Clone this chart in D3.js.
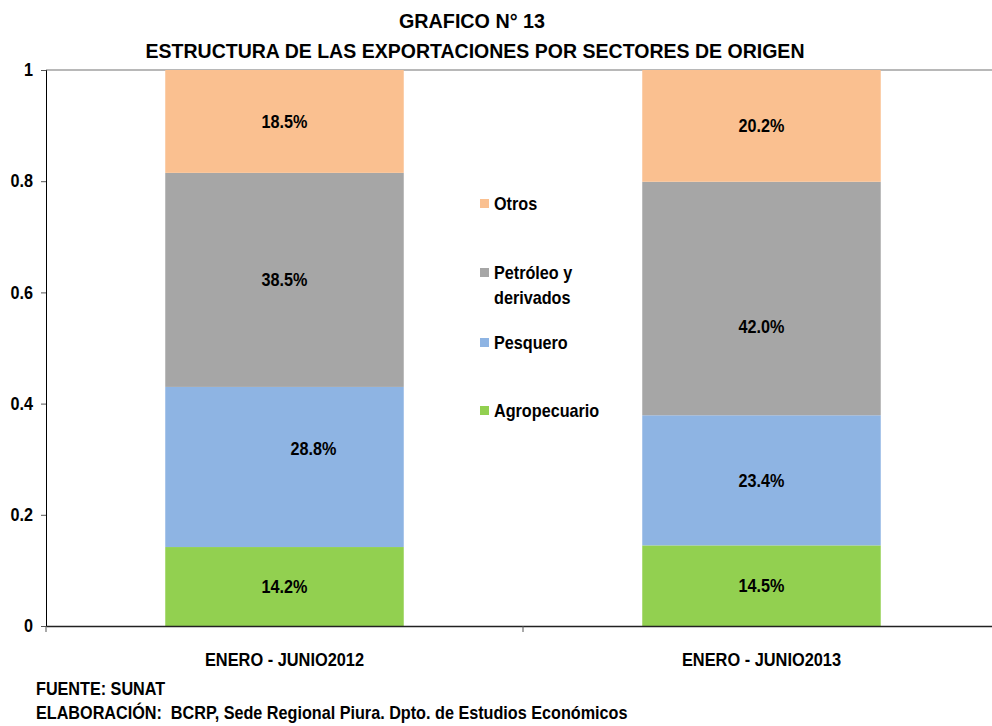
<!DOCTYPE html>
<html>
<head>
<meta charset="utf-8">
<script src="https://d3js.org/d3.v7.min.js"></script>
<style>
body { margin: 0; background: #fff; }
svg text { font-family: "Liberation Sans", Arial, sans-serif; font-weight: bold; fill: #000; }
</style>
</head>
<body>
<svg id="chart" width="992" height="726"></svg>
<script>
// data
var periods = ["ENERO - JUNIO2012", "ENERO - JUNIO2013"];
var sectors = ["Agropecuario", "Pesquero", "Petróleo y derivados", "Otros"];
var agropecuario = [14.2, 14.5];
var pesquero = [28.8, 23.4];
var petroleo = [38.5, 42.0];
var otros = [18.5, 20.2];
var yTicks = [0, 0.2, 0.4, 0.6, 0.8, 1];

var colors = ["#92D050", "#8EB4E3", "#A6A6A6", "#FAC090"];
// a couple of labels were moved by hand in the original
var labelNudge = { "1-0": [29, -18], "2-1": [0, 28] };

// the original uses a condensed bold face, so squeeze the text horizontally
function narrow(sel, k) {
  sel.each(function() {
    var t = d3.select(this), x = +t.attr("x") || 0;
    t.attr("transform", "translate(" + x + ",0) scale(" + k + ",1) translate(" + (-x) + ",0)");
  });
  return sel;
}

var svg = d3.select("#chart");
var margin = {left: 46, top: 70, right: -8, bottom: 100};
var W = 992 - margin.left - margin.right, H = 726 - margin.top - margin.bottom;

var rows = periods.map(function(p, i) {
  return {period: p, Agropecuario: agropecuario[i] / 100, Pesquero: pesquero[i] / 100,
          "Petróleo y derivados": petroleo[i] / 100, Otros: otros[i] / 100};
});
var series = d3.stack().keys(sectors)(rows);

var x = d3.scaleBand().domain(periods).range([0, W]).paddingInner(0.5).paddingOuter(0.25);
var y = d3.scaleLinear().domain([0, 1]).range([H, 0]).clamp(true);

var g = svg.append("g").attr("transform", "translate(" + margin.left + "," + margin.top + ")");

// title
narrow(svg.append("text").attr("x", 472).attr("y", 28).attr("text-anchor", "middle")
  .style("font-size", "21px").text("GRAFICO N° 13"), 0.94);
narrow(svg.append("text").attr("x", 475).attr("y", 58).attr("text-anchor", "middle")
  .style("font-size", "21px").text("ESTRUCTURA DE LAS EXPORTACIONES POR SECTORES DE ORIGEN"), 0.93);

// top gridline
g.append("line").attr("x1", 0).attr("x2", W).attr("y1", y(1)).attr("y2", y(1))
  .attr("stroke", "#A0A0A0").attr("stroke-width", 1.5);

// bars
g.selectAll("g.layer").data(series).enter().append("g").attr("class", "layer")
  .attr("fill", function(d, i) { return colors[i]; })
  .selectAll("rect").data(function(d) { return d; }).enter().append("rect")
  .attr("x", function(d) { return x(d.data.period); })
  .attr("width", x.bandwidth())
  .attr("y", function(d) { return y(d[1]); })
  .attr("height", function(d) { return y(d[0]) - y(d[1]); });

// data labels
series.forEach(function(s, si) {
  s.forEach(function(d, pi) {
    var n = labelNudge[si + "-" + pi] || [0, 0];
    narrow(g.append("text")
      .attr("x", x(d.data.period) + x.bandwidth() / 2 + n[0])
      .attr("y", (y(d[0]) + y(d[1])) / 2 + n[1])
      .attr("dy", "0.35em").attr("text-anchor", "middle")
      .style("font-size", "18px")
      .text(d3.format(".1f")((d[1] - d[0]) * 100) + "%"), 0.9);
  });
});

// y axis
var yAxis = g.append("g").call(d3.axisLeft(y).tickValues(yTicks).tickSize(5)
  .tickFormat(function(d) { return d === 0 || d === 1 ? d : d3.format(".1f")(d); }));
yAxis.select(".domain").attr("stroke", "#000");
yAxis.selectAll(".tick line").attr("stroke", "#555");
narrow(yAxis.selectAll(".tick text").attr("x", -13).style("font-size", "18px").style("font-family", null), 0.9);

// x axis
var xAxis = g.append("g").attr("transform", "translate(0," + H + ")")
  .call(d3.axisBottom(x).tickSize(0).tickSizeOuter(0));
xAxis.select(".domain").attr("stroke", "#222").attr("stroke-width", 1.5);
narrow(xAxis.selectAll(".tick text").attr("dy", 0).attr("y", 40).style("font-size", "18px").style("font-family", null), 0.91);
g.append("g").selectAll("line").data([0, 1, 2]).enter().append("line")
  .attr("x1", function(d) { return d * (W / 2); }).attr("x2", function(d) { return d * (W / 2); })
  .attr("y1", H).attr("y2", H + 6).attr("stroke", "#555");

// legend
var legendItems = [
  {label: ["Otros"], c: colors[3], y: 204},
  {label: ["Petróleo y", "derivados"], c: colors[2], y: 273},
  {label: ["Pesquero"], c: colors[1], y: 343},
  {label: ["Agropecuario"], c: colors[0], y: 411}
];
var leg = svg.append("g").selectAll("g").data(legendItems).enter().append("g");
leg.append("rect").attr("x", 480).attr("y", function(d) { return d.y - 5; })
  .attr("width", 9).attr("height", 9).attr("fill", function(d) { return d.c; });
narrow(leg.append("text").attr("x", 494).attr("y", function(d) { return d.y; })
  .style("font-size", "18px"), 0.9)
  .selectAll("tspan").data(function(d) { return d.label; }).enter().append("tspan")
  .attr("x", 494).attr("dy", function(d, i) { return i ? "1.4em" : "0.35em"; })
  .text(function(d) { return d; });

// footnotes
narrow(svg.append("text").attr("x", 36).attr("y", 695).style("font-size", "18px").text("FUENTE: SUNAT"), 0.9);
narrow(svg.append("text").attr("x", 36).attr("y", 719).style("font-size", "18px").style("white-space", "pre")
  .text("ELABORACIÓN:  BCRP, Sede Regional Piura. Dpto. de Estudios Económicos"), 0.9);
</script>
</body>
</html>
